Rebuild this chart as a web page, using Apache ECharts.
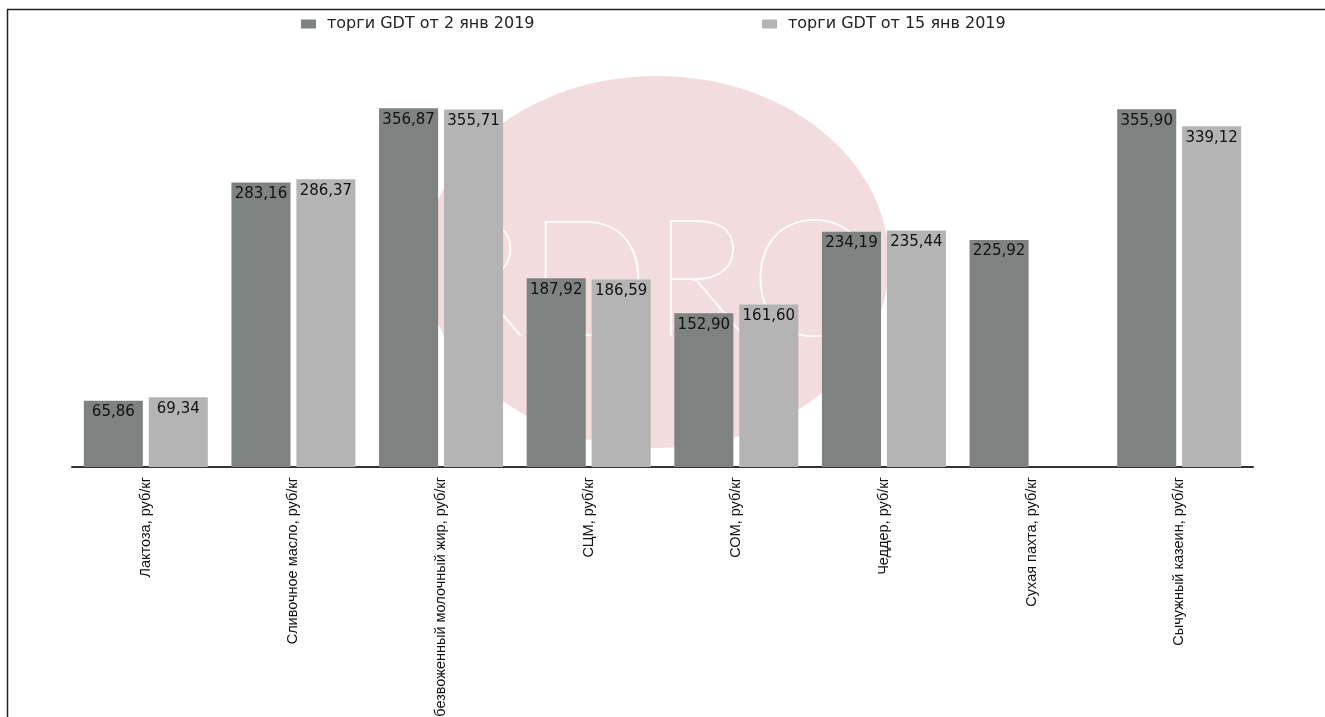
<!DOCTYPE html>
<html>
<head>
<meta charset="utf-8">
<script src="https://cdn.jsdelivr.net/npm/echarts@6/dist/echarts.min.js"></script>
<style>
html,body{margin:0;padding:0;background:#fff;overflow:hidden;}
#chart{width:1325px;height:717px;}
</style>
</head>
<body>
<div id="chart"></div>
<script>
const categories = [
  'Лактоза, руб/кг',
  'Сливочное масло, руб/кг',
  'Обезвоженный молочный жир, руб/кг',
  'СЦМ, руб/кг',
  'СОМ, руб/кг',
  'Чеддер, руб/кг',
  'Сухая пахта, руб/кг',
  'Сычужный казеин, руб/кг'
];
const seriesNames = ['торги GDT от 2 янв 2019', 'торги GDT от 15 янв 2019'];
const jan2 = [65.86, 283.16, 356.87, 187.92, 152.90, 234.19, 225.92, 355.90];
const jan15 = [69.34, 286.37, 355.71, 186.59, 161.60, 235.44, null, 339.12];

const chart = echarts.init(document.getElementById('chart'));
const fmt = p => p.value == null ? '' : p.value.toFixed(2).replace('.', ',');
const labelCfg = {
  show: true,
  position: 'insideTop',
  distance: 4,
  color: '#111',
  fontFamily: 'DejaVu Sans',
  fontSize: 15,
  formatter: fmt
};
const legendText = { fontFamily: 'DejaVu Sans', fontSize: 16, color: '#222', padding: [0, 0, 0, 6] };
chart.setOption({
  animation: false,
  graphic: [
    { type: 'ellipse', z: -10, shape: { cx: 657, cy: 262, rx: 232, ry: 186 }, style: { fill: '#f3dcde' } },
    { type: 'text', z: -9, left: 428, top: 200, style: { text: 'RDRC', fill: 'rgba(255,255,255,0.9)', font: '200 165px Lato' } },
    { type: 'line', shape: { x1: 7.5, y1: 9, x2: 7.5, y2: 717 }, style: { stroke: '#222', lineWidth: 1.5 } },
    { type: 'line', shape: { x1: 7, y1: 9.5, x2: 1325, y2: 9.5 }, style: { stroke: '#222', lineWidth: 1.5 } }
  ],
  legend: [
    { data: [seriesNames[0]], left: 296, top: 11, itemWidth: 15, itemHeight: 9, icon: 'rect', textStyle: legendText },
    { data: [seriesNames[1]], left: 757, top: 11, itemWidth: 15, itemHeight: 9, icon: 'rect', textStyle: legendText }
  ],
  grid: { left: 72, right: 72, top: 65, bottom: 250, containLabel: false, outerBoundsMode: 'none' },
  xAxis: {
    type: 'category',
    data: categories,
    axisLine: { lineStyle: { color: '#333', width: 2 } },
    axisTick: { show: false },
    axisLabel: {
      rotate: 90,
      interval: 0,
      margin: 10,
      color: '#111',
      fontFamily: 'Liberation Sans',
      fontSize: 14.5
    }
  },
  yAxis: {
    type: 'value',
    min: 0,
    max: 400,
    show: false,
    splitLine: { show: false }
  },
  series: [
    { name: seriesNames[0], type: 'bar', data: jan2, barWidth: '40%', barGap: '10%',
      itemStyle: { color: '#7e8381' }, label: labelCfg },
    { name: seriesNames[1], type: 'bar', data: jan15, barWidth: '40%', barGap: '10%',
      itemStyle: { color: '#b4b4b4' }, label: labelCfg }
  ]
});
</script>
</body>
</html>
